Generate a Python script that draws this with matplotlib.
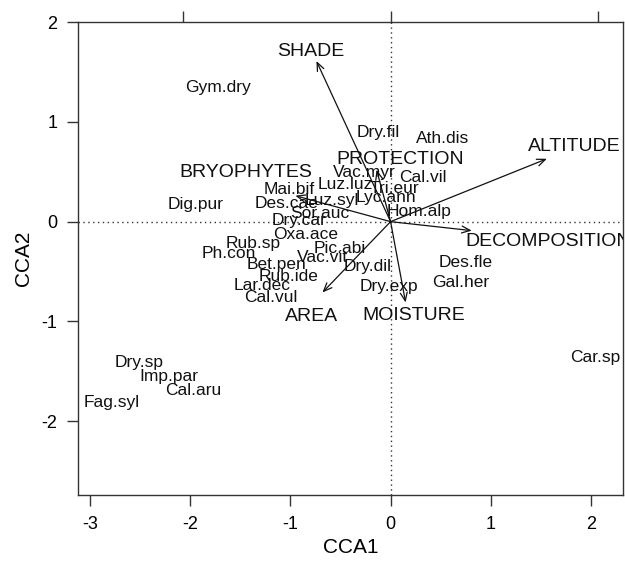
import matplotlib
matplotlib.use("Agg")
import matplotlib.pyplot as plt

plt.rcParams['font.family'] = ['Liberation Sans', 'DejaVu Sans']

# species scores (CCA1, CCA2)
species = ['Gym.dry', 'Dry.fil', 'Ath.dis', 'Vac.myr', 'Cal.vil', 'Luz.luz', 'Tri.eur',
           'Mai.bif', 'Lyc.ann', 'Luz.syl', 'Des.cae', 'Hom.alp', 'Sor.auc', 'Dry.car',
           'Dig.pur', 'Oxa.ace', 'Rub.sp', 'Pic.abi', 'Ph.con', 'Vac.vit', 'Bet.pen',
           'Dry.dil', 'Rub.ide', 'Lar.dec', 'Dry.exp', 'Cal.vul', 'Des.fle', 'Gal.her',
           'Car.sp', 'Dry.sp', 'Imp.par', 'Cal.aru', 'Fag.syl']
sp_x = [-1.72, -0.12, 0.52, -0.26, 0.32, -0.45, 0.04,
        -1.01, -0.05, -0.59, -1.04, 0.28, -0.71, -0.91,
        -1.95, -0.85, -1.37, -0.51, -1.61, -0.68, -1.14,
        -0.23, -1.02, -1.28, -0.02, -1.20, 0.75, 0.70,
        2.04, -2.51, -2.21, -1.97, -2.78]
sp_y = [1.34, 0.89, 0.83, 0.49, 0.44, 0.37, 0.33,
        0.32, 0.24, 0.21, 0.18, 0.10, 0.08, 0.01,
        0.17, -0.13, -0.22, -0.27, -0.32, -0.36, -0.43,
        -0.45, -0.55, -0.64, -0.65, -0.76, -0.41, -0.61,
        -1.36, -1.41, -1.55, -1.69, -1.81]

# environmental variables: arrow heads and label positions
env = ['SHADE', 'ALTITUDE', 'PROTECTION', 'BRYOPHYTES', 'DECOMPOSITION', 'AREA', 'MOISTURE']
arr_x = [-0.74, 1.56, -0.14, -0.95, 0.81, -0.68, 0.15]
arr_y = [1.61, 0.63, 0.52, 0.26, -0.09, -0.71, -0.81]
lab_x = [-0.80, 1.83, 0.10, -1.44, 1.57, -0.79, 0.23]
lab_y = [1.71, 0.75, 0.62, 0.49, -0.20, -0.95, -0.94]

fig = plt.figure(figsize=(6.25, 5.67), dpi=100)
ax = fig.add_axes([0.1248, 0.127, 0.872, 0.834])
ax.set_xlim(-3.12, 2.32)
ax.set_ylim(-2.74, 1.99)

ax.axhline(0, color='#333333', lw=1, ls=(0, (1, 2.5)), zorder=1)
ax.axvline(0, color='#333333', lw=1, ls=(0, (1, 2.5)), zorder=1)

for name, x, y in zip(species, sp_x, sp_y):
    ax.text(x, y, name, ha='center', va='center', fontsize=12.5, color='#111111', clip_on=True)

for x, y in zip(arr_x, arr_y):
    ax.annotate('', xy=(x, y), xytext=(0, 0),
                arrowprops=dict(arrowstyle='->,head_length=0.6,head_width=0.25',
                                color='#111111', lw=0.9, shrinkA=0, shrinkB=0))

for name, x, y in zip(env, lab_x, lab_y):
    ax.text(x, y, name, ha='center', va='center', fontsize=14, color='#111111', clip_on=True)

for s in ax.spines.values():
    s.set_color('#333333')
    s.set_linewidth(1)

ax.set_xticks([-3, -2, -1, 0, 1, 2])
ax.set_yticks([-2, -1, 0, 1, 2])
ax.set_yticklabels(['-2', '-1', '0', '1', '2'])
ax.set_xticklabels(['-3', '-2', '-1', '0', '1', '2'])
ax.tick_params(direction='out', length=8, width=1, color='#333333',
               labelsize=13, pad=7)

top = ax.secondary_xaxis('top', functions=(lambda v: v / 1.037, lambda v: v * 1.037))
top.set_xticks([-2, 0, 2])
top.set_xticklabels([])
top.tick_params(direction='out', length=8, width=1, color='#333333')
top.spines['top'].set_visible(False)

ax.set_xlabel('CCA1', fontsize=15, labelpad=4)
ax.set_ylabel('CCA2', fontsize=15, labelpad=6)

fig.savefig('out.png', dpi=100)
